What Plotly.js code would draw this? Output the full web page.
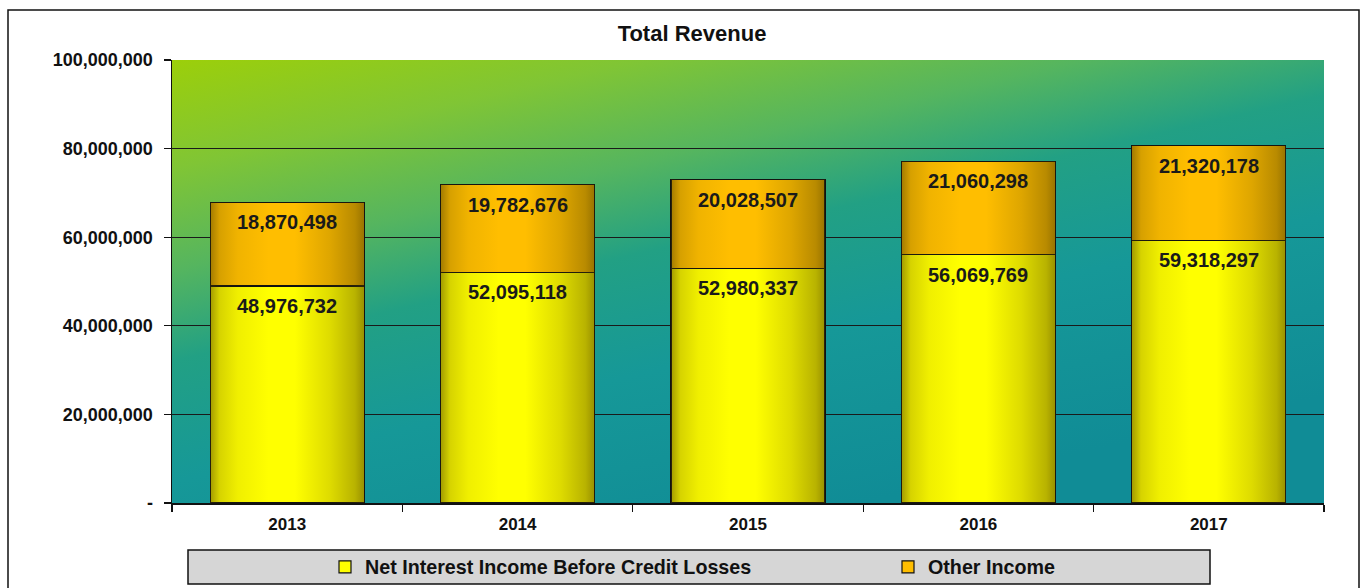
<!DOCTYPE html>
<html>
<head>
<meta charset="utf-8">
<script src="https://cdn.plot.ly/plotly-3.0.1.min.js"></script>
<style>
html,body{margin:0;padding:0;background:#fff;}
#chart{width:1364px;height:588px;}
</style>
</head>
<body>
<div id="chart"></div>
<script>
// ---- data ----
var years = ['2013', '2014', '2015', '2016', '2017'];
var netInterestIncome = [48976732, 52095118, 52980337, 56069769, 59318297];
var otherIncome = [18870498, 19782676, 20028507, 21060298, 21320178];
var yTickVals = [0, 20000000, 40000000, 60000000, 80000000, 100000000];
var yTickText = ['-', '20,000,000', '40,000,000', '60,000,000', '80,000,000', '100,000,000'];
var seriesNames = ['Net Interest Income Before Credit Losses', 'Other Income'];

// ---- style ----
var FONT = 'Liberation Sans, Arial, sans-serif';
var barWidth = 0.668;
var xIdx = years.map(function (_, i) { return i; });
function fmt(v) { return v.toLocaleString('en-US'); }

var traces = [
  {
    type: 'bar', name: seriesNames[0], x: xIdx, y: netInterestIncome, width: barWidth,
    marker: { color: '#ffff00', line: { color: '#111', width: 1.2 } },
    legend: 'legend', hoverinfo: 'skip'
  },
  {
    type: 'bar', name: seriesNames[1], x: xIdx, y: otherIncome, width: barWidth,
    marker: { color: '#ffbe00', line: { color: '#111', width: 1.2 } },
    legend: 'legend2', hoverinfo: 'skip'
  }
];

// cylinder-like shading overlays (computed from data)
var shade = [
  [0, 'rgba(70,55,0,0.50)'], [0.06, 'rgba(70,55,0,0.22)'], [0.18, 'rgba(70,55,0,0.08)'],
  [0.38, 'rgba(70,55,0,0)'], [0.55, 'rgba(70,55,0,0)'], [0.78, 'rgba(70,55,0,0.18)'],
  [0.94, 'rgba(70,55,0,0.38)'], [1, 'rgba(70,55,0,0.55)']
];
xIdx.forEach(function (i) {
  var total = netInterestIncome[i] + otherIncome[i];
  var x0 = i - barWidth / 2, x1 = i + barWidth / 2;
  traces.push({
    type: 'scatter', mode: 'none', x: [x0, x1, x1, x0, x0], y: [0, 0, total, total, 0],
    fill: 'toself', fillgradient: { type: 'horizontal', colorscale: shade, start: x0, stop: x1 },
    showlegend: false, hoverinfo: 'skip'
  });
});

var annotations = [];
xIdx.forEach(function (i) {
  var total = netInterestIncome[i] + otherIncome[i];
  annotations.push({
    x: i, y: netInterestIncome[i], xref: 'x', yref: 'y', text: fmt(netInterestIncome[i]),
    showarrow: false, yanchor: 'middle', yshift: -20,
    font: { family: FONT, size: 20, color: '#1a1a1a', weight: 'bold' }
  });
  annotations.push({
    x: i, y: total, xref: 'x', yref: 'y', text: fmt(otherIncome[i]),
    showarrow: false, yanchor: 'middle', yshift: -20,
    font: { family: FONT, size: 20, color: '#1a1a1a', weight: 'bold' }
  });
});

var bgSvg = '<svg xmlns="http://www.w3.org/2000/svg" width="1152" height="443" viewBox="0 0 1152 443" preserveAspectRatio="none">' +
  '<defs><linearGradient id="g" x1="0" y1="0" x2="0.6" y2="1">' +
  '<stop offset="0" stop-color="#9ccf0a"/>' +
  '<stop offset="0.18" stop-color="#80c535"/>' +
  '<stop offset="0.35" stop-color="#55b55f"/>' +
  '<stop offset="0.5" stop-color="#22a084"/>' +
  '<stop offset="0.7" stop-color="#169898"/>' +
  '<stop offset="1" stop-color="#108c96"/>' +
  '</linearGradient></defs><rect width="1152" height="443" fill="url(#g)"/></svg>';
var bgUri = 'data:image/svg+xml;charset=utf-8,' + encodeURIComponent(bgSvg);

var legendFont = { family: FONT, size: 19.7, color: '#111', weight: 'bold' };

var layout = {
  width: 1364, height: 588,
  margin: { l: 172, r: 40, t: 60, b: 85 },
  paper_bgcolor: '#ffffff',
  plot_bgcolor: 'rgba(0,0,0,0)',
  barmode: 'stack',
  font: { family: FONT, color: '#111' },
  title: {
    text: 'Total Revenue', x: 692 / 1364, xref: 'container', xanchor: 'center',
    y: 1 - 33 / 588, yref: 'container', yanchor: 'middle',
    font: { family: FONT, size: 22, color: '#111', weight: 'bold' }
  },
  xaxis: {
    range: [-0.5, 4.5], tickmode: 'array', tickvals: xIdx, ticktext: years,
    ticks: '', showgrid: false, zeroline: false,
    showline: true, linecolor: '#111', linewidth: 1.5,
    tickfont: { family: FONT, size: 17, color: '#111', weight: 'bold' },
    ticklabelstandoff: 5,
    minor: { tickmode: 'linear', tick0: -0.5, dtick: 1, ticks: 'outside', ticklen: 7, tickcolor: '#111', tickwidth: 1.2, showgrid: false },
    fixedrange: true
  },
  yaxis: {
    range: [0, 100000000], tickmode: 'array', tickvals: yTickVals, ticktext: yTickText,
    ticks: 'outside', ticklen: 7, tickcolor: '#111', tickwidth: 1.2,
    showgrid: true, gridcolor: '#1a1a1a', gridwidth: 1.2, zeroline: false,
    showline: true, linecolor: '#111', linewidth: 1.5,
    tickfont: { family: FONT, size: 18, color: '#111', weight: 'bold' },
    ticklabelstandoff: 7,
    fixedrange: true
  },
  showlegend: true,
  legend: {
    orientation: 'h', x: (325 - 172) / 1152, xanchor: 'left',
    yref: 'container', y: 1 - 567 / 588, yanchor: 'middle',
    bgcolor: 'rgba(0,0,0,0)', borderwidth: 0, font: legendFont
  },
  legend2: {
    orientation: 'h', x: (888 - 172) / 1152, xanchor: 'left',
    yref: 'container', y: 1 - 567 / 588, yanchor: 'middle',
    bgcolor: 'rgba(0,0,0,0)', borderwidth: 0, font: legendFont
  },
  images: [{
    source: bgUri, xref: 'paper', yref: 'paper', x: 0, y: 1, sizex: 1, sizey: 1,
    xanchor: 'left', yanchor: 'top', sizing: 'stretch', layer: 'below'
  }],
  shapes: [
    { type: 'rect', xref: 'paper', yref: 'paper', x0: (8 - 172) / 1152, x1: (1359 - 172) / 1152,
      y0: (503 - 594) / 443, y1: (503 - 10) / 443, line: { color: '#111', width: 1.5 }, fillcolor: 'rgba(0,0,0,0)', layer: 'below' },
    { type: 'rect', xref: 'paper', yref: 'paper', x0: (188 - 172) / 1152, x1: (1210 - 172) / 1152,
      y0: (503 - 584) / 443, y1: (503 - 550) / 443, line: { color: '#111', width: 1.5 }, fillcolor: '#d6d6d6', layer: 'above' }
  ],
  annotations: annotations
};

Plotly.newPlot('chart', traces, layout, { displayModeBar: false, staticPlot: true });
</script>
</body>
</html>
